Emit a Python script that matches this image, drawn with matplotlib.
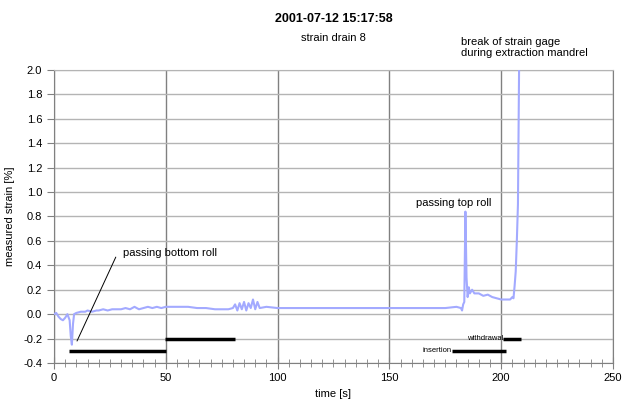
import matplotlib.pyplot as plt
from matplotlib.ticker import MultipleLocator, FormatStrFormatter

plt.rcParams['font.family'] = ['Liberation Sans', 'DejaVu Sans']

# strain trace
time_s = [0, 1, 2, 3, 4, 5, 6, 7, 7.5, 8, 8.5, 9, 10, 12, 14, 15, 17, 19, 20, 22, 24, 26, 28,
          30, 32, 34, 36, 38, 40, 42, 44, 46, 48, 50, 53, 56, 60, 64, 68, 72, 76, 78, 80,
          81, 82, 83, 84, 85, 86, 87, 88, 89, 90, 91, 92, 95, 100, 110, 120, 130, 140,
          150, 160, 165, 170, 175, 180, 182, 182.5, 183, 183.5, 184, 184.5, 185, 185.5,
          186, 187, 188, 190, 192, 194, 196, 198, 200, 202, 204, 205, 205.5, 206, 206.5,
          207, 207.5, 208, 208.5]
strain = [0.0, 0.01, -0.02, -0.04, -0.05, -0.03, 0.0, -0.05, -0.18, -0.25, -0.08, 0.0, 0.01,
          0.02, 0.02, 0.03, 0.02, 0.03, 0.03, 0.04, 0.03, 0.04, 0.04, 0.04, 0.05, 0.04, 0.06,
          0.04, 0.05, 0.06, 0.05, 0.06, 0.05, 0.06, 0.06, 0.06, 0.06, 0.05, 0.05, 0.04, 0.04,
          0.04, 0.05, 0.08, 0.03, 0.09, 0.04, 0.1, 0.03, 0.09, 0.05, 0.12, 0.04, 0.1, 0.05,
          0.06, 0.05, 0.05, 0.05, 0.05, 0.05, 0.05, 0.05, 0.05, 0.05, 0.05, 0.06, 0.05, 0.03,
          0.08, 0.1, 0.84, 0.3, 0.14, 0.22, 0.17, 0.2, 0.17, 0.17, 0.15, 0.16, 0.14, 0.13,
          0.12, 0.12, 0.12, 0.14, 0.13, 0.23, 0.35, 0.6, 0.9, 2.0, 2.2]

# black phase bars: (start, end, level)
bar_starts = [6.7, 49.5, 178, 201]
bar_ends = [50, 81, 202, 209]
bar_levels = [-0.3, -0.2, -0.3, -0.2]

fig = plt.figure(figsize=(6.22, 4.03), dpi=100)
ax = fig.add_axes([0.0868, 0.0993, 0.8987, 0.727])

ax.plot(time_s, strain, color='#a3aaff', lw=1.5, zorder=3)
for s, e, lv in zip(bar_starts, bar_ends, bar_levels):
    ax.plot([s, e], [lv, lv], color='black', lw=2.5, solid_capstyle='butt', zorder=4)

ax.set_xlim(0, 250)
ax.set_ylim(-0.4, 2.0)
ax.xaxis.set_major_locator(MultipleLocator(50))
ax.xaxis.set_minor_locator(MultipleLocator(5))
ax.yaxis.set_major_locator(MultipleLocator(0.2))
ax.yaxis.set_major_formatter(FormatStrFormatter('%.1f'))

ax.grid(axis='y', color='#b4b4b4', lw=1.0)
ax.grid(axis='x', color='#808080', lw=1.0)
ax.spines['top'].set_color('#b4b4b4')
for side in ['left', 'bottom', 'right']:
    ax.spines[side].set_color('#808080')
ax.tick_params(axis='x', which='both', direction='inout', colors='#808080', labelcolor='black', labelsize=8)
ax.tick_params(axis='x', which='major', length=8)
ax.tick_params(axis='x', which='minor', length=6)
ax.tick_params(axis='y', direction='out', length=5, colors='#808080', labelcolor='black', labelsize=8)

ax.set_xlabel('time [s]', fontsize=8, labelpad=4)
ax.set_ylabel('measured strain [%]', fontsize=8, labelpad=6)

fig.text(0.536, 0.952, '2001-07-12 15:17:58', ha='center', va='center', fontsize=9, fontweight='bold')
fig.text(0.536, 0.905, 'strain drain 8', ha='center', va='center', fontsize=8)

ax.annotate('passing bottom roll', xy=(10.3, -0.22), xytext=(31, 0.5),
            fontsize=8, va='center', ha='left',
            arrowprops=dict(arrowstyle='-', color='black', lw=0.7, shrinkA=0, shrinkB=0,
                            relpos=(-0.08, 0.1)))
ax.text(178.6, 0.91, 'passing top roll', fontsize=8, ha='center', va='center')
ax.text(182, 2.1, 'break of strain gage\nduring extraction mandrel', fontsize=8,
        ha='left', va='bottom', linespacing=1.1, clip_on=False)
ax.text(178, -0.3, 'insertion', fontsize=5.5, ha='right', va='center')
ax.text(201, -0.2, 'withdrawal', fontsize=5.5, ha='right', va='center')

fig.savefig('out.png', dpi=100)
